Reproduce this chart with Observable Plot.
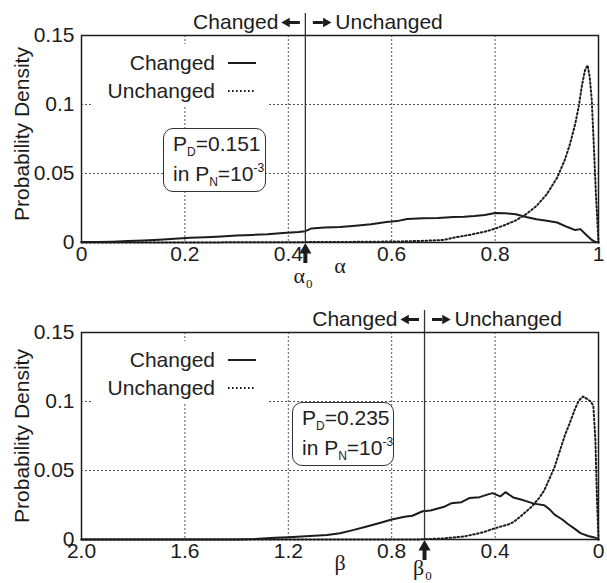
<!DOCTYPE html>
<html>
<head>
<meta charset="utf-8">
<script src="https://cdn.jsdelivr.net/npm/d3@7"></script>
<script src="https://cdn.jsdelivr.net/npm/@observablehq/plot@0.6"></script>
<style>
  body { margin: 0; background: #fff; font-family: "Liberation Sans", Arial, sans-serif; color: #222; }
  .panel { position: relative; width: 607px; }
  .panel svg { display: block; }
  .ov { position: absolute; font-size: 21px; line-height: 24px; white-space: nowrap; }
  .legbg { position: absolute; background: #fff; }
  .box { position: absolute; box-sizing: border-box; border: 1px solid #333; border-radius: 10px; background: #fff;
         font-size: 21px; line-height: 30px; padding: 0 0 0 9px; white-space: nowrap; }
  .box sub { font-size: 12px; vertical-align: -5px; line-height: 0; }
  .box sup { font-size: 12px; vertical-align: 9px; line-height: 0; }
</style>
</head>
<body>
<div id="top" class="panel"></div>
<div id="bottom" class="panel"></div>
<script>
// ---------- data ----------
const seriesNames = ["Changed", "Unchanged"];
const densityTicks = [0, 0.05, 0.1, 0.15];
const densityTickLabels = ["0", "0.05", "0.1", "0.15"];

const alphaTicks = [0, 0.2, 0.4, 0.6, 0.8, 1];
const alphaTickLabels = ["0", "0.2", "0.4", "0.6", "0.8", "1"];
const alpha0 = 0.433;
const alphaChangedX = [0, 0.03, 0.06, 0.09, 0.12, 0.15, 0.18, 0.21, 0.24, 0.27, 0.30, 0.33, 0.36, 0.39, 0.42, 0.433, 0.445, 0.47, 0.50, 0.53, 0.56, 0.59, 0.61, 0.63, 0.66, 0.69, 0.72, 0.74, 0.76, 0.78, 0.80, 0.82, 0.84, 0.86, 0.88, 0.90, 0.92, 0.94, 0.955, 0.965, 0.975, 0.985, 0.993, 1.0];
const alphaChangedY = [0.0003, 0.0004, 0.0006, 0.0010, 0.0015, 0.0020, 0.0027, 0.0034, 0.0038, 0.0043, 0.0050, 0.0055, 0.0060, 0.0068, 0.0076, 0.0082, 0.0102, 0.0108, 0.0113, 0.0122, 0.0133, 0.0148, 0.0155, 0.0170, 0.0175, 0.0178, 0.0185, 0.0187, 0.0192, 0.0200, 0.0213, 0.0212, 0.0205, 0.0185, 0.0168, 0.0158, 0.0145, 0.0112, 0.0090, 0.0097, 0.0060, 0.0025, 0.0005, 0];
const alphaUnchangedX = [0, 0.3, 0.45, 0.55, 0.62, 0.66, 0.70, 0.72, 0.75, 0.78, 0.80, 0.82, 0.84, 0.86, 0.88, 0.90, 0.92, 0.935, 0.945, 0.955, 0.962, 0.968, 0.974, 0.979, 0.983, 0.987, 0.991, 0.995, 1.0];
const alphaUnchangedY = [0, 0.0001, 0.0003, 0.0005, 0.0008, 0.0012, 0.0018, 0.0035, 0.0055, 0.0078, 0.0100, 0.0128, 0.0160, 0.0205, 0.0265, 0.0350, 0.0470, 0.0600, 0.0715, 0.0860, 0.0990, 0.1140, 0.1250, 0.1285, 0.1200, 0.1030, 0.0700, 0.0350, 0];

const betaTicks = [2.0, 1.6, 1.2, 0.8, 0.4, 0];
const betaTickLabels = ["2.0", "1.6", "1.2", "0.8", "0.4", "0"];
const beta0 = 0.673;
const betaChangedX = [2.0, 1.4, 1.33, 1.25, 1.2, 1.1, 1.05, 1.0, 0.95, 0.9, 0.85, 0.8, 0.75, 0.72, 0.68, 0.65, 0.6, 0.57, 0.53, 0.5, 0.46, 0.43, 0.41, 0.38, 0.36, 0.33, 0.3, 0.28, 0.25, 0.21, 0.19, 0.17, 0.14, 0.12, 0.09, 0.07, 0.04, 0.02, 0.005, 0];
const betaChangedY = [0, 0, 0.0003, 0.0012, 0.0017, 0.0028, 0.0032, 0.0045, 0.0068, 0.0093, 0.0118, 0.0145, 0.0165, 0.0172, 0.0205, 0.0210, 0.0235, 0.0262, 0.0270, 0.0300, 0.0307, 0.0325, 0.0336, 0.0312, 0.0343, 0.0305, 0.0290, 0.0278, 0.0260, 0.0248, 0.0220, 0.0180, 0.0145, 0.0114, 0.0075, 0.0046, 0.0025, 0.0017, 0.0008, 0];
const betaUnchangedX = [2.0, 0.7, 0.6, 0.52, 0.45, 0.4, 0.35, 0.33, 0.3, 0.26, 0.23, 0.21, 0.19, 0.17, 0.15, 0.13, 0.11, 0.09, 0.076, 0.06, 0.045, 0.03, 0.02, 0.012, 0.006, 0];
const betaUnchangedY = [0, 0, 0.0008, 0.0022, 0.0050, 0.0082, 0.0108, 0.0125, 0.0170, 0.0235, 0.0300, 0.0355, 0.0440, 0.0524, 0.0640, 0.0755, 0.0850, 0.0950, 0.1007, 0.1036, 0.1020, 0.1000, 0.0970, 0.0720, 0.0300, 0];

const pairs = (xs, ys) => xs.map((x, i) => ({x, y: ys[i]}));

// ---------- panel builder ----------
const FONT = "'Liberation Sans', Arial, sans-serif";
const GREEK = "'Liberation Serif', 'DejaVu Serif', serif";
const INK = "#1c1c1c";
const PLOT_W = 517, PLOT_H = 207;

function panel({el, height, marginTop, marginBottom, xDomain, xTicks, xTickLabels, x0, xLabel, changed, unchanged, yLabelDy, x0Dy}) {
  const yTop = densityTicks[densityTicks.length - 1];
  const kY = yTop / PLOT_H;                               // data per pixel (y)
  const kX = (xDomain[1] - xDomain[0]) / PLOT_W;          // data per pixel (x, signed)
  const gridStyle = {stroke: "#555", strokeWidth: 1, strokeDasharray: "2,2"};
  const svg = Plot.plot({
    width: 607, height, marginTop, marginBottom, marginLeft: 81, marginRight: 9,
    style: {fontFamily: FONT, fontSize: "21px", color: INK, background: "white"},
    x: {domain: xDomain, ticks: xTicks, tickFormat: d => xTickLabels[xTicks.indexOf(d)], tickSize: 0, tickPadding: 4, label: null},
    y: {domain: [0, yTop], ticks: densityTicks, tickFormat: d => densityTickLabels[densityTicks.indexOf(d)], tickSize: 0, tickPadding: 7, label: null},
    marks: [
      Plot.ruleX(xTicks.filter(t => t !== xDomain[0] && t !== xDomain[1]), gridStyle),
      Plot.ruleY(densityTicks.filter(t => t > 0 && t < yTop), gridStyle),
      Plot.line(unchanged, {x: "x", y: "y", stroke: INK, strokeWidth: 2, strokeDasharray: "1.6,2.4"}),
      Plot.line(changed, {x: "x", y: "y", stroke: INK, strokeWidth: 2}),
      Plot.ruleX([x0], {x: d => d, y1: 0, y2: yTop + 22 * kY, stroke: "#333", strokeWidth: 1.3}),
      Plot.frame({stroke: INK, strokeWidth: 1.5}),
      // header: Changed <- | -> Unchanged
      Plot.text([x0], {x: d => d, y: yTop, dy: -13, dx: -27, text: () => seriesNames[0], textAnchor: "end", fill: INK}),
      Plot.text([x0], {x: d => d, y: yTop, dy: -13, dx: 30, text: () => seriesNames[1], textAnchor: "start", fill: INK}),
      Plot.ruleY([yTop], {x1: x0 - 16 * kX, x2: x0 - 5 * kX, dy: -13, stroke: INK, strokeWidth: 3}),
      Plot.dot([x0], {x: d => d, y: yTop, dx: -18.5, dy: -13, symbol: "triangle", r: 3.6, rotate: -90, fill: INK, stroke: null}),
      Plot.ruleY([yTop], {x1: x0 + 8 * kX, x2: x0 + 18 * kX, dy: -13, stroke: INK, strokeWidth: 3}),
      Plot.dot([x0], {x: d => d, y: yTop, dx: 20.5, dy: -13, symbol: "triangle", r: 3.6, rotate: 90, fill: INK, stroke: null}),
      // threshold arrow under the axis
      Plot.dot([x0], {x: d => d, y: 0, dy: 7.5, symbol: "triangle", r: 4.5, fill: INK, stroke: null}),
      Plot.ruleX([x0], {x: d => d, y1: -10 * kY, y2: -21 * kY, stroke: INK, strokeWidth: 4}),
      Plot.text([xLabel[0]], {x: () => x0, frameAnchor: "bottom", dy: x0Dy, dx: -6, text: d => d, fontFamily: GREEK, fontSize: 22, fill: INK}),
      Plot.text(["0"], {x: () => x0, frameAnchor: "bottom", dy: x0Dy + 5, dx: 4, text: d => d, fontFamily: GREEK, fontSize: 13, fill: INK}),
      // axis labels
      Plot.text([xLabel[0]], {frameAnchor: "bottom", dy: 30, text: d => d, fontFamily: GREEK, fontSize: 22, fill: INK}),
      Plot.text(["Probability Density"], {frameAnchor: "left", textAnchor: "middle", dx: -59, dy: yLabelDy, rotate: -90, text: d => d, fill: INK})
    ]
  });
  el.appendChild(svg);
}

function overlays(el, {frameTop, boxLeft, boxTop, boxWidth, pd}) {
  const html = `
    <div class="legbg" style="left:93px;top:${frameTop + 9}px;width:175px;height:63px"></div>
    <div class="ov" style="left:0;width:215px;text-align:right;top:${frameTop + 16}px">${seriesNames[0]}</div>
    <div class="ov" style="left:0;width:215px;text-align:right;top:${frameTop + 44}px">${seriesNames[1]}</div>
    <svg style="position:absolute;left:226px;top:${frameTop + 20}px" width="32" height="40">
      <line x1="2" x2="30" y1="8" y2="8" stroke="${INK}" stroke-width="2"/>
      <line x1="2" x2="30" y1="36" y2="36" stroke="${INK}" stroke-width="2" stroke-dasharray="1.6,2.4"/>
    </svg>
    <div class="box" style="left:${boxLeft}px;top:${boxTop}px;width:${boxWidth}px;height:64px">P<sub>D</sub>=${pd}<br>in P<sub>N</sub>=10<sup>-3</sup></div>`;
  el.insertAdjacentHTML("beforeend", html);
}

const topEl = document.getElementById("top");
panel({el: topEl, height: 290, marginTop: 35, marginBottom: 48, xDomain: [0, 1], xTicks: alphaTicks, xTickLabels: alphaTickLabels,
       x0: alpha0, xLabel: ["α"], changed: pairs(alphaChangedX, alphaChangedY), unchanged: pairs(alphaUnchangedX, alphaUnchangedY), yLabelDy: -5, x0Dy: 40});
overlays(topEl, {frameTop: 35, boxLeft: 163, boxTop: 128, boxWidth: 103, pd: "0.151"});

const botEl = document.getElementById("bottom");
panel({el: botEl, height: 293, marginTop: 42, marginBottom: 44, xDomain: [2, 0], xTicks: betaTicks, xTickLabels: betaTickLabels,
       x0: beta0, xLabel: ["β"], changed: pairs(betaChangedX, betaChangedY), unchanged: pairs(betaUnchangedX, betaUnchangedY), yLabelDy: 0, x0Dy: 35});
overlays(botEl, {frameTop: 42, boxLeft: 292, boxTop: 112, boxWidth: 102, pd: "0.235"});
</script>
</body>
</html>
